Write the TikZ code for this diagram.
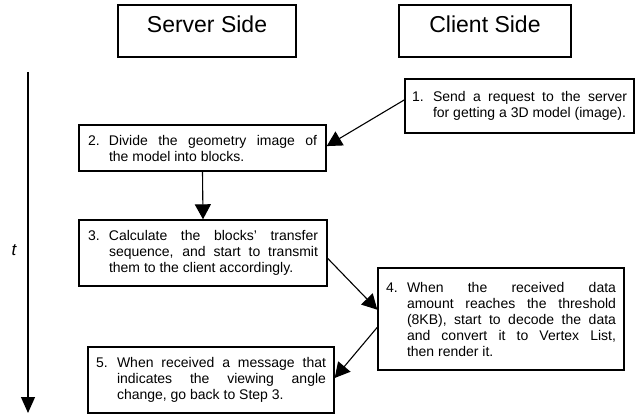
\documentclass[tikz,border=0pt]{standalone}
\usepackage{fontspec}
\setmainfont{Liberation Sans}
\usetikzlibrary{arrows.meta,calc}
\newcommand\itm[2]{\hangindent=21pt\hangafter=1\noindent\makebox[21pt][l]{#1}#2\par}
\begin{document}
\begin{tikzpicture}[x=1pt,y=-1pt,
  proc/.style={draw, line width=1.4pt, align=justify, anchor=center,
    font=\fontsize{14}{16}\selectfont},
  title/.style={draw, line width=1.4pt, anchor=center, inner sep=0pt,
    font=\fontsize{23}{27}\selectfont, text height=16.5pt, text depth=14pt},
  conn/.style={line width=1.1pt, -{Triangle[length=15pt,width=16pt]}},
  axis/.style={line width=1.3pt, -{Triangle[length=16pt,width=14pt]}}]
\useasboundingbox (0,0) rectangle (641,417);
\tolerance=10000 \hbadness=10000
% titles
\node[title, minimum width=178pt, minimum height=52pt] (srv) at (207,31) {Server Side};
\node[title, minimum width=172pt, minimum height=52pt] (cli) at (485,31) {Client Side};
% time axis
\coordinate (ttop) at (28,72);
\coordinate (tbot) at (28,413);
\draw[axis] (ttop) -- (tbot);
\node[font=\itshape\fontsize{17}{20}\selectfont] (tl) at (14,250) {t};
% steps
\node[proc, text width=215pt, inner xsep=7pt, minimum height=54pt] (b1) at (519.5,106)
  {\itm{1.}{Send a request to the server\linebreak for getting a 3D model (image).}};
\node[proc, text width=229pt, inner xsep=9pt, minimum height=46pt] (b2) at (202.5,148)
  {\itm{2.}{Divide the geometry image of\linebreak the model into blocks.}};
\node[proc, text width=230pt, inner xsep=9pt, minimum height=66pt] (b3) at (203,253)
  {\itm{3.}{Calculate the blocks’ transfer\linebreak sequence, and start to transmit\linebreak them to the client accordingly.}};
\node[proc, text width=230pt, inner xsep=8pt, minimum height=102pt] (b4) at (501,319)
  {\itm{4.}{When the received data\linebreak amount reaches the threshold\linebreak (8KB), start to decode the data\linebreak and convert it to Vertex List,\linebreak then render it.}};
\node[proc, text width=230pt, inner xsep=8pt, minimum height=66pt] (b5) at (211,380)
  {\itm{5.}{When received a message that\linebreak indicates the viewing angle\linebreak change, go back to Step 3.}};
% connectors
\draw[conn] ($(b1.north west)!0.39!(b1.south west)$) -- ($(b2.north east)!0.46!(b2.south east)$);
\draw[conn] (b2.south) -- (b3.north);
\draw[conn] ($(b3.north east)!0.58!(b3.south east)$) -- ($(b4.north west)!0.41!(b4.south west)$);
\draw[conn] ($(b4.north west)!0.58!(b4.south west)$) -- ($(b5.north east)!0.47!(b5.south east)$);
\end{tikzpicture}
\end{document}
